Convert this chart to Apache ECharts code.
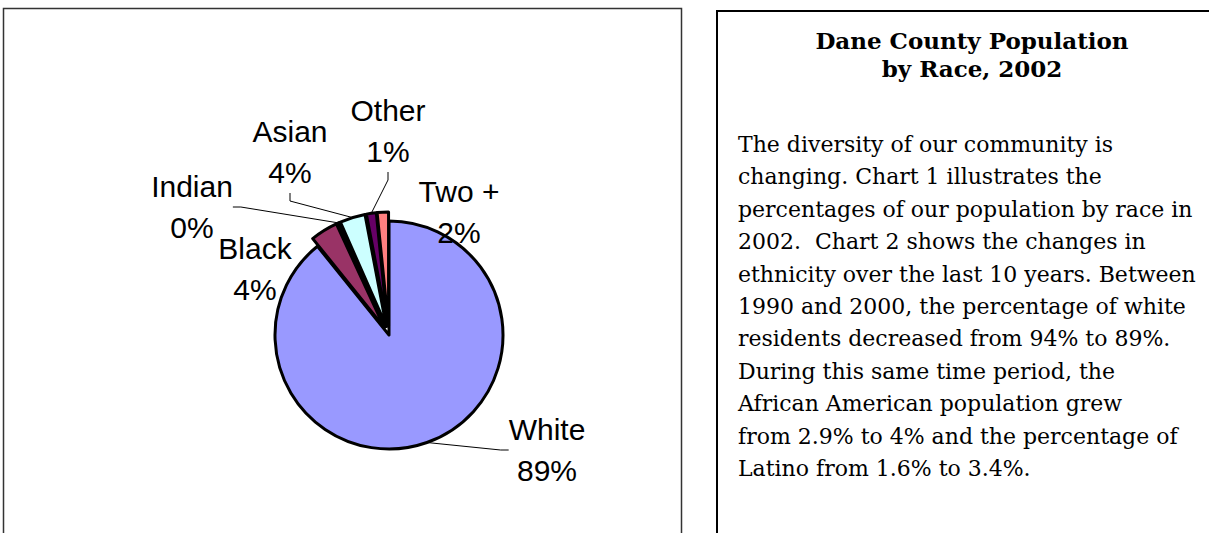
<!DOCTYPE html>
<html>
<head>
<meta charset="utf-8">
<script src="https://cdn.jsdelivr.net/npm/echarts@6/dist/echarts.min.js"></script>
<style>
  html, body { margin: 0; padding: 0; background: #fff; }
  #chart { width: 1209px; height: 533px; }
</style>
</head>
<body>
<div id="chart"></div>
<script>
// ---- data ----
const categories = ['White', 'Black', 'Indian', 'Asian', 'Other', 'Two +'];
const values = [89.2, 3.9, 0.3, 3.6, 1.4, 1.6];           // percent of population, 2002
const exploded = [false, true, true, true, true, true];
const titleLines = ['Dane County Population', 'by Race, 2002'];
const bodyLines = [
  'The diversity of our community is',
  'changing. Chart 1 illustrates the',
  'percentages of our population by race in',
  '2002.  Chart 2 shows the changes in',
  'ethnicity over the last 10 years. Between',
  '1990 and 2000, the percentage of white',
  'residents decreased from 94% to 89%.',
  'During this same time period, the',
  'African American population grew',
  'from 2.9% to 4% and the percentage of',
  'Latino from 1.6% to 3.4%.'
];

// ---- styles / layout ----
const sliceColors = ['#9999FF', '#993366', '#FFFFCC', '#CCFFFF', '#660066', '#FF8080'];
const showLine = [true, false, true, true, true, false];
const labelPos = [
  [547, 450], [255, 269], [192, 207], [290, 152], [388, 131], [459, 212]
];
const PIE_CENTER = [389, 335];
const PIE_R = 114;
const EXPLODE = 9;

const chart = echarts.init(document.getElementById('chart'), null, { renderer: 'svg' });

const labelStyle = {
  position: 'outside',
  color: '#000',
  fontFamily: '"Liberation Sans", Arial, sans-serif',
  fontSize: 30,
  lineHeight: 41,
  align: 'center',
  formatter: p => p.name + '\n' + Math.round(p.percent) + '%'
};
const lineStyle = { color: '#000', width: 1 };
const layoutFn = p => ({
  x: labelPos[p.dataIndex][0],
  y: labelPos[p.dataIndex][1],
  align: 'center',
  verticalAlign: 'middle',
  hideOverlap: false
});

// main (coloured, exploded) pie: only the unexploded slice carries its label here
const pieData = categories.map((name, i) => ({
  name: name,
  value: values[i],
  selected: exploded[i],
  itemStyle: { color: sliceColors[i] },
  label: { show: !exploded[i] },
  labelLine: { show: !exploded[i] && showLine[i] }
}));
// label carrier pie (transparent) reaching the exploded slices' outer edge
const labelData = categories.map((name, i) => ({
  name: name,
  value: values[i],
  label: { show: exploded[i] },
  labelLine: { show: exploded[i] && showLine[i] }
}));

const graphics = [
  { type: 'rect', shape: { x: 3.5, y: 8.5, width: 678, height: 600 },
    style: { fill: 'none', stroke: '#333', lineWidth: 1.5 }, silent: true },
  { type: 'rect', shape: { x: 717, y: 11, width: 600, height: 600 },
    style: { fill: 'none', stroke: '#000', lineWidth: 2 }, silent: true }
];
titleLines.forEach((t, i) => {
  graphics.push({
    type: 'text', x: 972, y: 40.5 + i * 27.5,
    style: { text: t, fill: '#000', font: 'bold 23px "DejaVu Serif"', align: 'center', verticalAlign: 'middle' },
    silent: true
  });
});
bodyLines.forEach((t, i) => {
  graphics.push({
    type: 'text', x: 738, y: 144.4 + i * 32.4,
    style: { text: t, fill: '#000', font: '22px "DejaVu Serif"', align: 'left', verticalAlign: 'middle' },
    silent: true
  });
});

chart.setOption({
  animation: false,
  backgroundColor: '#fff',
  graphic: graphics,
  series: [{
    type: 'pie',
    center: PIE_CENTER,
    radius: PIE_R,
    startAngle: 90,
    clockwise: true,
    selectedMode: 'multiple',
    selectedOffset: EXPLODE,
    avoidLabelOverlap: false,
    data: pieData,
    itemStyle: { borderColor: '#000', borderWidth: 3 },
    select: { itemStyle: { borderColor: '#000', borderWidth: 3 } },
    emphasis: { disabled: true },
    label: labelStyle,
    labelLine: { show: true, length: 8, length2: 8, lineStyle: lineStyle },
    labelLayout: layoutFn
  }, {
    type: 'pie',
    silent: true,
    center: PIE_CENTER,
    radius: PIE_R + EXPLODE,
    startAngle: 90,
    clockwise: true,
    selectedMode: false,
    avoidLabelOverlap: false,
    data: labelData,
    itemStyle: { color: 'rgba(0,0,0,0)', borderWidth: 0 },
    emphasis: { disabled: true },
    label: labelStyle,
    labelLine: { show: true, length: 8, length2: 8, lineStyle: lineStyle },
    labelLayout: layoutFn
  }]
});
</script>
</body>
</html>
